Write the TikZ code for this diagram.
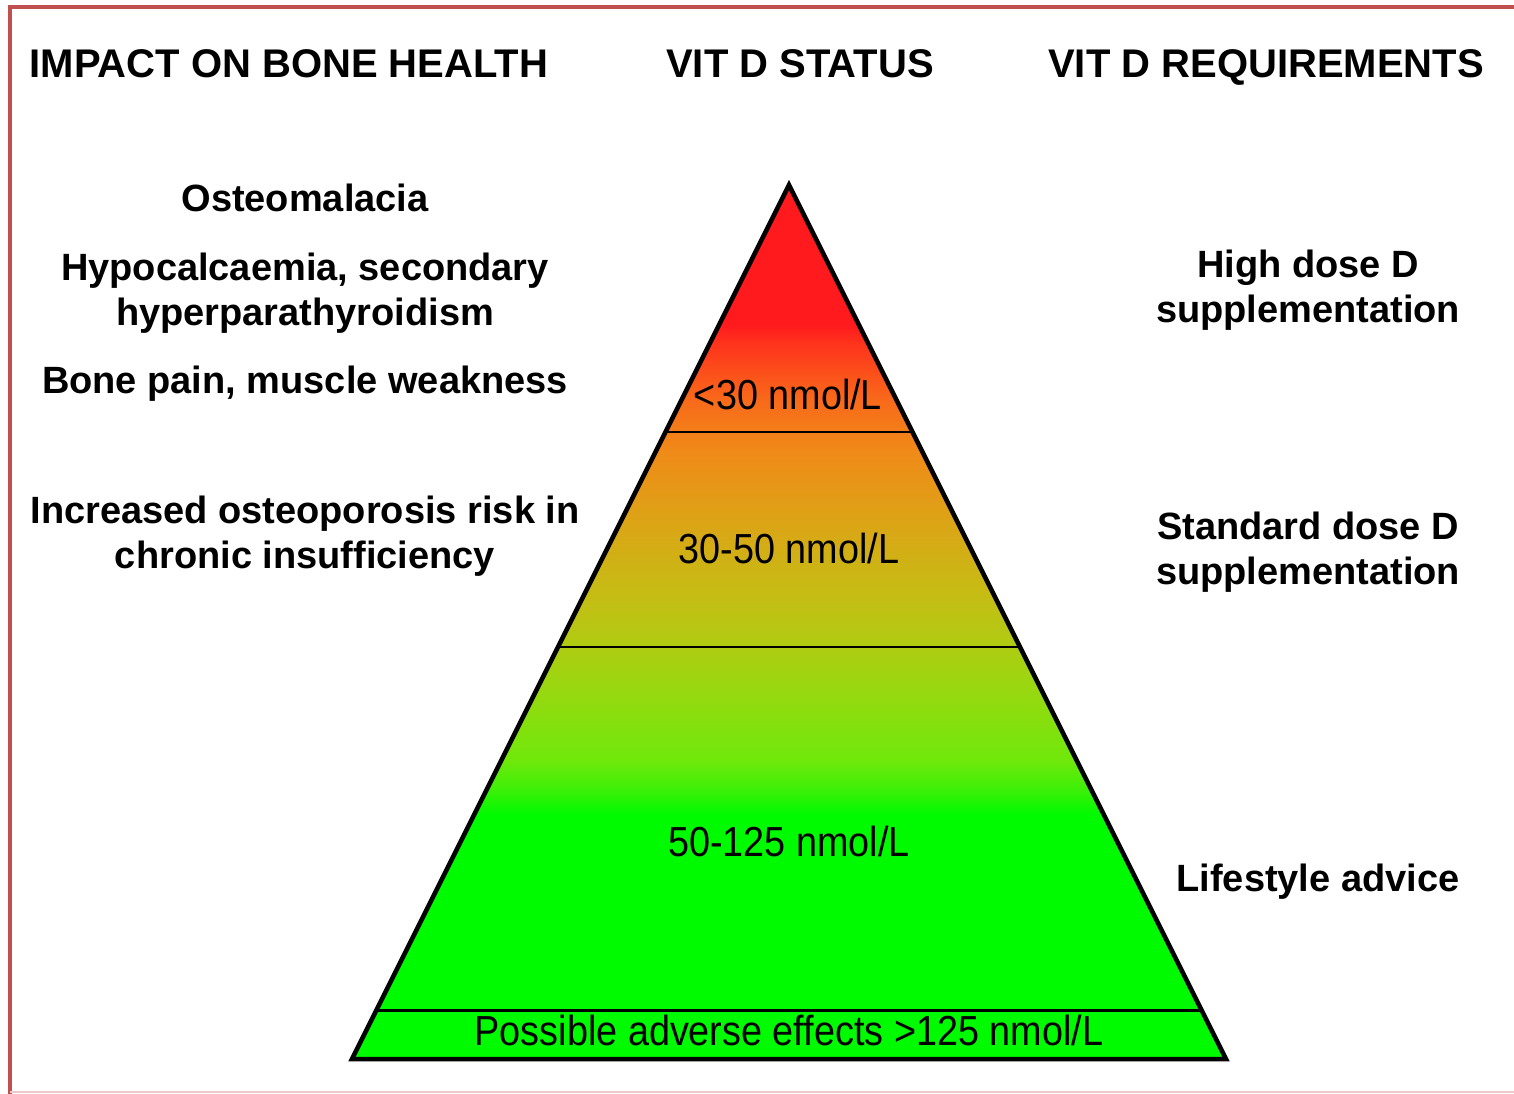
\documentclass[tikz,border=0pt]{standalone}
\usepackage{fontspec}
\setmainfont{Liberation Sans}
\newfontfamily\narrowsf[FakeStretch=0.9]{Liberation Sans}
\definecolor{framered}{RGB}{192,80,77}
\definecolor{grn}{RGB}{0,250,0}
\definecolor{lgrn}{RGB}{60,240,8}
\definecolor{ygrn}{RGB}{112,232,10}
\definecolor{limeg}{RGB}{152,216,16}
\definecolor{olivey}{RGB}{175,204,18}
\definecolor{mustard}{RGB}{196,190,20}
\definecolor{amber}{RGB}{220,164,22}
\definecolor{orng}{RGB}{240,138,24}
\definecolor{dorng}{RGB}{248,106,26}
\definecolor{redor}{RGB}{255,50,28}
\definecolor{topred}{RGB}{255,26,30}
\pgfdeclareverticalshading{vitd}{100bp}{color(0bp)=(grn); color(39bp)=(grn); color(40.4bp)=(lgrn); color(42.1bp)=(ygrn); color(46.1bp)=(limeg); color(48.6bp)=(olivey); color(51.3bp)=(mustard); color(55.8bp)=(amber); color(59.8bp)=(orng); color(62.7bp)=(dorng); color(66bp)=(redor); color(67bp)=(topred); color(100bp)=(topred)}

\begin{document}
\begin{tikzpicture}[x=1pt, y=-1pt, every node/.style={align=center, inner sep=0pt, anchor=base}]
\tikzstyle{head}=[font=\fontsize{40}{48}\selectfont\bfseries]
\tikzstyle{effect}=[font=\fontsize{38}{45}\selectfont\bfseries]
\tikzstyle{level}=[font=\fontsize{42}{48}\narrowsf]
\tikzstyle{band}=[line width=2.5]
\useasboundingbox (0,0) rectangle (1514,1093);
% frame
\draw[framered, line width=4] (10,1100) -- (10,7) -- (1520,7);
\draw[framered!30, line width=2] (10,1092) -- (1520,1092);
% pyramid
\coordinate (apex) at (789,185);
\coordinate (bl) at (352,1059);
\coordinate (br) at (1226,1059);
\fill[shading=vitd] (apex) -- (bl) -- (br) -- cycle;
\coordinate (l1) at (665.5,432);
\coordinate (r1) at (912.5,432);
\coordinate (l2) at (558,647);
\coordinate (r2) at (1020,647);
\coordinate (l3) at (376.5,1010);
\coordinate (r3) at (1201.5,1010);
\draw[band] (l1) -- (r1);
\draw[band] (l2) -- (r2);
\draw[band, line width=3] (l3) -- (r3);
\draw[line width=4.5, line join=miter] (apex) -- (bl) -- (br) -- cycle;
% headings
\node[head] (hdimpact) at (289,77) {IMPACT ON BONE HEALTH};
\node[head] (hdstatus) at (800,77) {VIT D STATUS};
\node[head] (hdreq) at (1266,77) {VIT D REQUIREMENTS};
% bone health (base = last line)
\node[effect] (osteo) at (305,211) {Osteomalacia};
\node[effect] (hypo) at (305,325) {Hypocalcaemia, secondary\\hyperparathyroidism};
\node[effect] (pain) at (305,393) {Bone pain, muscle weakness};
\node[effect] (risk) at (305,568) {Increased osteoporosis risk in\\chronic insufficiency};
% status levels
\node[level] (lvlsev) at (788,409) {<30 nmol/L};
\node[level] (lvlins) at (789,563) {30-50 nmol/L};
\node[level] (lvlok) at (789,856) {50-125 nmol/L};
\node[level] (lvlhigh) at (789,1045) {Possible adverse effects >125 nmol/L};
% requirements
\node[effect] (highd) at (1308,322) {High dose D\\supplementation};
\node[effect] (stdd) at (1308,584) {Standard dose D\\supplementation};
\node[effect] (life) at (1318,891) {Lifestyle advice};
\end{tikzpicture}
\end{document}
